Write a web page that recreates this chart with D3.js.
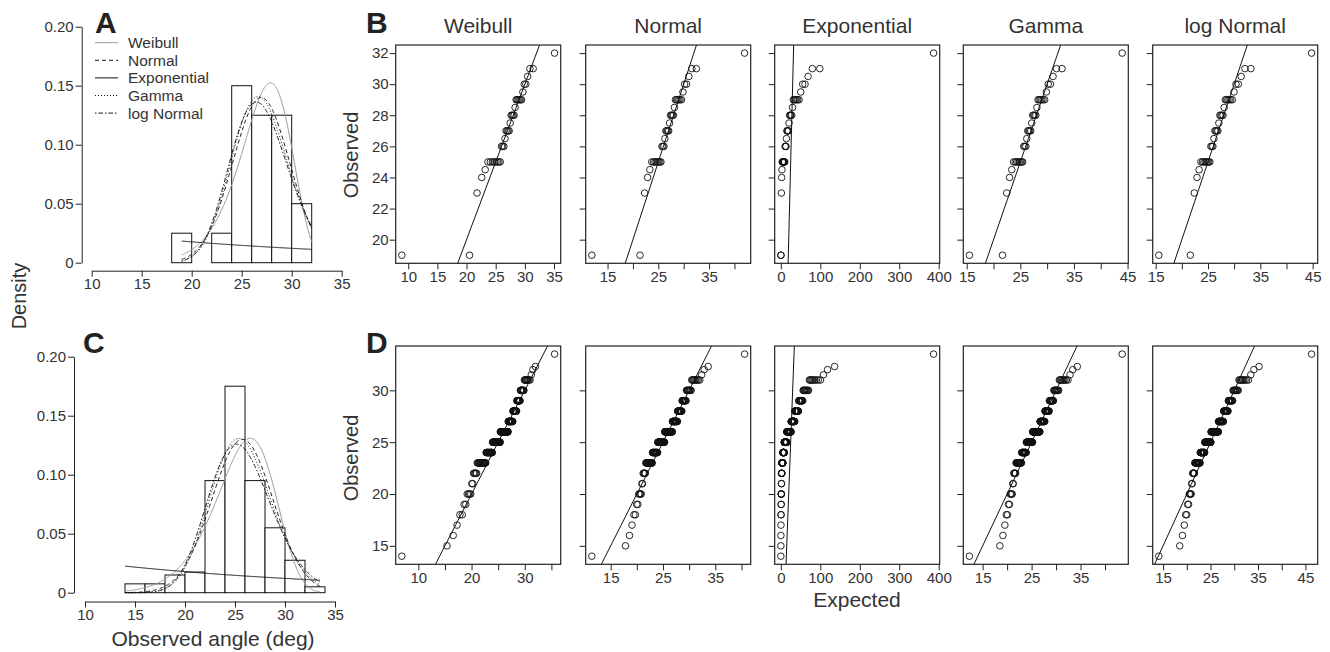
<!DOCTYPE html>
<html>
<head>
<meta charset="utf-8">
<script src="https://cdn.jsdelivr.net/npm/d3@7"></script>
<style>
  body { margin: 0; background: #fff; }
  text { font-family: "Liberation Sans", Arial, sans-serif; fill: #333; }
</style>
</head>
<body>
<div id="chart"></div>
<script>
// ---------------- data ----------------
const distNames = ["Weibull", "Normal", "Exponential", "Gamma", "log Normal"];

// observed angles (deg), sample 1 (panels A, B) as value / count
const obsValuesB = [19, 23, 24, 24.5, 25, 26, 26.5, 27, 27.5, 28, 28.5, 29, 29.5, 30, 30.5, 31, 32];
const obsCountsB = [2, 1, 1, 1, 8, 3, 1, 4, 1, 4, 1, 6, 1, 2, 1, 2, 1];
// sample 2 (panels C, D)
const obsValuesD = [14, 15, 16, 17, 18, 19, 20, 21, 22, 23, 24, 25, 26, 27, 28, 29, 30, 31, 31.5, 32, 32.3, 33.5];
const obsCountsD = [1, 1, 1, 1, 2, 2, 4, 2, 5, 18, 20, 32, 38, 22, 16, 12, 10, 9, 1, 1, 1, 1];

// fitted parameters, [sample 1, sample 2]
const weibullFit = [{shape: 11.6, scale: 28.1}, {shape: 9.5, scale: 26.85}];
const normalFit = [{mean: 26.95, sd: 2.85}, {mean: 25.74, sd: 3.07}];
const expFit = [{rate: 1 / 26.95}, {rate: 1 / 25.74}];
const gammaFit = [{shape: 89.4, rate: 3.318}, {shape: 70.3, rate: 2.731}];
const lnormFit = [{meanlog: 3.288, sdlog: 0.11}, {meanlog: 3.240, sdlog: 0.125}];

// expected value of the lowest / highest point in each QQ plot
const tailsB = [[8.9, 35.1], [11.9, 42.0], [0, 387], [15.5, 44.0], [15.6, 44.8]];
const tailsD = [[6.9, 35.6], [11.4, 40.6], [0, 387], [12.3, 43.5], [14.1, 46.3]];

const histBreaksA = [18, 20, 22, 24, 26, 28, 30, 32];
const histBreaksC = [14, 16, 18, 20, 22, 24, 26, 28, 30, 32, 34];
const densTicks = [0, 0.05, 0.10, 0.15, 0.20];
const angleTicks = [10, 15, 20, 25, 30, 35];

const yTicksB = [20, 22, 24, 26, 28, 30, 32];
const yTicksD = [15, 20, 25, 30];
const xTicksB = [[10, 15, 20, 25, 30, 35], [15, 20, 25, 30, 35, 40], [0, 100, 200, 300, 400], [15, 20, 25, 30, 35, 40, 45], [15, 20, 25, 30, 35, 40, 45]];
const xLabelsB = [[10, 15, 20, 25, 30, 35], [15, 25, 35], [0, 100, 200, 300, 400], [15, 25, 35, 45], [15, 25, 35, 45]];
const xTicksD = [[10, 15, 20, 25, 30, 35], [15, 20, 25, 30, 35, 40], [0, 100, 200, 300, 400], [15, 20, 25, 30, 35, 40], [15, 20, 25, 30, 35, 40, 45]];
const xLabelsD = [[10, 20, 30], [15, 25, 35], [0, 100, 200, 300, 400], [15, 25, 35], [15, 25, 35, 45]];

// ---------------- helpers ----------------
function expand(values, counts) {
  return values.flatMap((v, i) => Array(counts[i]).fill(v));
}

function qnorm(p) {
  const a = [-3.969683028665376e+01, 2.209460984245205e+02, -2.759285104469687e+02, 1.383577518672690e+02, -3.066479806614716e+01, 2.506628277459239e+00];
  const b = [-5.447609879822406e+01, 1.615858368580409e+02, -1.556989798598866e+02, 6.680131188771972e+01, -1.328068155288572e+01];
  const c = [-7.784894002430293e-03, -3.223964580411365e-01, -2.400758277161838e+00, -2.549732539343734e+00, 4.374664141464968e+00, 2.938163982698783e+00];
  const d = [7.784695709041462e-03, 3.224671290700398e-01, 2.445134137142996e+00, 3.754408661907416e+00];
  const pl = 0.02425;
  let q, r;
  if (p < pl) {
    q = Math.sqrt(-2 * Math.log(p));
    return (((((c[0]*q+c[1])*q+c[2])*q+c[3])*q+c[4])*q+c[5]) / ((((d[0]*q+d[1])*q+d[2])*q+d[3])*q+1);
  }
  if (p > 1 - pl) {
    q = Math.sqrt(-2 * Math.log(1 - p));
    return -(((((c[0]*q+c[1])*q+c[2])*q+c[3])*q+c[4])*q+c[5]) / ((((d[0]*q+d[1])*q+d[2])*q+d[3])*q+1);
  }
  q = p - 0.5; r = q * q;
  return (((((a[0]*r+a[1])*r+a[2])*r+a[3])*r+a[4])*r+a[5])*q / (((((b[0]*r+b[1])*r+b[2])*r+b[3])*r+b[4])*r+1);
}

function lgamma(a) {
  return (a - 0.5) * Math.log(a) - a + 0.5 * Math.log(2 * Math.PI) + 1 / (12 * a) - 1 / (360 * a * a * a);
}

// quantile + density functions for one sample
function dists(s) {
  const w = weibullFit[s], nf = normalFit[s], e = expFit[s], g = gammaFit[s], ln = lnormFit[s];
  return [
    {q: p => w.scale * Math.pow(-Math.log(1 - p), 1 / w.shape),
     d: x => (w.shape / w.scale) * Math.pow(x / w.scale, w.shape - 1) * Math.exp(-Math.pow(x / w.scale, w.shape))},
    {q: p => nf.mean + nf.sd * qnorm(p),
     d: x => Math.exp(-0.5 * ((x - nf.mean) / nf.sd) ** 2) / (nf.sd * Math.sqrt(2 * Math.PI))},
    {q: p => -Math.log(1 - p) / e.rate,
     d: x => e.rate * Math.exp(-e.rate * x)},
    {q: p => { const k = 1 / (9 * g.shape); return g.shape / g.rate * Math.pow(1 - k + qnorm(p) * Math.sqrt(k), 3); },
     d: x => Math.exp(g.shape * Math.log(g.rate) + (g.shape - 1) * Math.log(x) - g.rate * x - lgamma(g.shape))},
    {q: p => Math.exp(ln.meanlog + ln.sdlog * qnorm(p)),
     d: x => Math.exp(-0.5 * ((Math.log(x) - ln.meanlog) / ln.sdlog) ** 2) / (x * ln.sdlog * Math.sqrt(2 * Math.PI))}
  ];
}

const curveStyle = [
  {stroke: "#9a9a9a", dash: null},
  {stroke: "#111", dash: "4,3"},
  {stroke: "#111", dash: null},
  {stroke: "#111", dash: "1,2"},
  {stroke: "#111", dash: "1.5,2,4.5,2"}
];

const svg = d3.select("#chart").append("svg")
  .attr("width", 1330)
  .attr("height", 652);

function styleAxis(g, size) {
  g.attr("font-family", null).attr("font-size", size || 15).attr("color", "#222");
  g.selectAll("line, path").attr("stroke-width", 1);
}

// ---------------- density panels (A, C) ----------------
function drawDensity(cfg) {
  const obs = expand(cfg.values, cfg.counts);
  const n = obs.length;
  const fits = dists(cfg.sample);
  const x = d3.scaleLinear().domain([10, 35]).range(cfg.xRange);
  const y = d3.scaleLinear().domain([0, 0.2]).range(cfg.yRange);

  const bins = d3.pairs(cfg.breaks).map(([x0, x1], i) => {
    const c = obs.filter(v => (i === 0 ? v >= x0 : v > x0) && v <= x1).length;
    return {x0, x1, dens: c / (n * (x1 - x0))};
  });

  const g = svg.append("g");
  g.append("g").selectAll("rect")
    .data(bins)
    .join("rect")
      .attr("x", d => x(d.x0))
      .attr("y", d => y(d.dens))
      .attr("width", d => x(d.x1) - x(d.x0))
      .attr("height", d => y(0) - y(d.dens))
      .attr("fill", "#fff")
      .attr("stroke", "#111")
      .attr("stroke-width", 1);

  const lo = d3.min(obs), hi = d3.max(obs);
  const xs = d3.range(lo, hi + 1e-9, 0.05);
  const line = d3.line().x(d => x(d[0])).y(d => y(d[1]));
  fits.forEach((f, i) => {
    g.append("path")
      .attr("d", line(xs.map(v => [v, f.d(v)])))
      .attr("fill", "none")
      .attr("stroke", curveStyle[i].stroke)
      .attr("stroke-dasharray", curveStyle[i].dash)
      .attr("stroke-width", 1);
  });

  const ya = g.append("g")
    .attr("transform", `translate(${cfg.yAxisX},0)`)
    .call(d3.axisLeft(y).tickValues(densTicks).tickSize(6).tickSizeOuter(0).tickPadding(2)
      .tickFormat(d => d === 0 ? "0" : d3.format(".2f")(d)));
  styleAxis(ya);

  const xa = g.append("g")
    .attr("transform", `translate(0,${cfg.xAxisY})`)
    .call(d3.axisBottom(x).tickValues(angleTicks).tickSize(6).tickSizeOuter(0).tickPadding(2));
  styleAxis(xa);

  if (cfg.legend) {
    distNames.forEach((name, i) => {
      const yy = cfg.legend.y + i * 17.6;
      g.append("line")
        .attr("x1", cfg.legend.x).attr("x2", cfg.legend.x + 23)
        .attr("y1", yy).attr("y2", yy)
        .attr("stroke", curveStyle[i].stroke)
        .attr("stroke-dasharray", curveStyle[i].dash)
        .attr("stroke-width", 1);
      g.append("text")
        .attr("x", cfg.legend.x + 33).attr("y", yy + 5.5)
        .attr("font-size", 15.5)
        .text(name);
    });
  }
}

drawDensity({values: obsValuesB, counts: obsCountsB, sample: 0, breaks: histBreaksA,
  xRange: [91.7, 341.7], yRange: [262.7, 26.7], yAxisX: 81.7, xAxisY: 270.7,
  legend: {x: 95, y: 42.7}});
drawDensity({values: obsValuesD, counts: obsCountsD, sample: 1, breaks: histBreaksC,
  xRange: [85, 335], yRange: [592.7, 356.7], yAxisX: 74, xAxisY: 601.5});

// ---------------- QQ panels (B, D) ----------------
const boxLefts = [395.7, 585.7, 774.7, 963.3, 1152.7];
const boxW = 165;

function drawQQ(cfg) {
  const obs = expand(cfg.values, cfg.counts).sort(d3.ascending);
  const n = obs.length;
  const fits = dists(cfg.sample);
  const ext = d3.extent(obs);
  const yPad = (ext[1] - ext[0]) * 0.04;
  const y = d3.scaleLinear().domain([ext[0] - yPad, ext[1] + yPad]).range([cfg.bottom, cfg.top]);

  fits.forEach((f, k) => {
    const tails = cfg.tails[k];
    const pts = obs.map((o, i) => {
      let e;
      if (i === 0) e = tails[0];
      else if (i === n - 1) e = tails[1];
      else e = f.q(i / (n - 1));
      return [e, o];
    });
    const xe = d3.extent(pts, d => d[0]);
    const xPad = (xe[1] - xe[0]) * 0.04;
    const x = d3.scaleLinear().domain([xe[0] - xPad, xe[1] + xPad])
      .range([boxLefts[k], boxLefts[k] + boxW]);

    const g = svg.append("g");
    const clipId = `clip-${cfg.id}-${k}`;
    g.append("clipPath").attr("id", clipId)
      .append("rect")
        .attr("x", boxLefts[k]).attr("y", cfg.top)
        .attr("width", boxW).attr("height", cfg.bottom - cfg.top);

    // identity line
    const lineLo = Math.min(x.domain()[0], y.domain()[0]);
    const lineHi = Math.max(x.domain()[1], y.domain()[1]);
    g.append("line")
      .attr("clip-path", `url(#${clipId})`)
      .attr("x1", x(lineLo)).attr("y1", y(lineLo))
      .attr("x2", x(lineHi)).attr("y2", y(lineHi))
      .attr("stroke", "#111")
      .attr("stroke-width", 1);

    g.append("g").selectAll("circle")
      .data(pts)
      .join("circle")
        .attr("cx", d => x(d[0]))
        .attr("cy", d => y(d[1]))
        .attr("r", 3.3)
        .attr("fill", "none")
        .attr("stroke", "#111")
        .attr("stroke-width", 0.9);

    g.append("rect")
      .attr("x", boxLefts[k]).attr("y", cfg.top)
      .attr("width", boxW).attr("height", cfg.bottom - cfg.top)
      .attr("fill", "none")
      .attr("stroke", "#222")
      .attr("stroke-width", 1.2);

    const labels = cfg.xLabels[k];
    const xa = g.append("g")
      .attr("transform", `translate(0,${cfg.bottom})`)
      .call(d3.axisBottom(x).tickValues(cfg.xTicks[k]).tickSize(6).tickSizeOuter(0).tickPadding(2)
        .tickFormat(d => labels.includes(d) ? d : ""));
    xa.select(".domain").remove();
    styleAxis(xa);

    const ya = g.append("g")
      .attr("transform", `translate(${boxLefts[k]},0)`)
      .call(d3.axisLeft(y).tickValues(cfg.yTicks).tickSize(6).tickSizeOuter(0).tickPadding(1)
        .tickFormat(d => k === 0 ? d : ""));
    ya.select(".domain").remove();
    styleAxis(ya);

    if (cfg.titles) {
      g.append("text")
        .attr("x", boxLefts[k] + boxW / 2).attr("y", 33)
        .attr("text-anchor", "middle")
        .attr("font-size", 21)
        .text(distNames[k]);
    }
  });
}

drawQQ({id: "B", values: obsValuesB, counts: obsCountsB, sample: 0, tails: tailsB,
  top: 45, bottom: 263.3, yTicks: yTicksB, xTicks: xTicksB, xLabels: xLabelsB, titles: true});
drawQQ({id: "D", values: obsValuesD, counts: obsCountsD, sample: 1, tails: tailsD,
  top: 346, bottom: 564.3, yTicks: yTicksD, xTicks: xTicksD, xLabels: xLabelsD, titles: false});

// ---------------- labels ----------------
const letters = [["A", 95, 33], ["B", 366, 33], ["C", 83, 353], ["D", 366, 353]];
svg.selectAll(".letter")
  .data(letters)
  .join("text")
    .attr("class", "letter")
    .attr("x", d => d[0] === "A" ? d[1] : d[1])
    .attr("y", d => d[2])
    .attr("font-size", 30)
    .attr("font-weight", "bold")
    .style("fill", "#222")
    .text(d => d[0]);

svg.append("text")
  .attr("transform", "translate(26,296) rotate(-90)")
  .attr("text-anchor", "middle")
  .attr("font-size", 20)
  .text("Density");

svg.append("text")
  .attr("transform", "translate(358,155) rotate(-90)")
  .attr("text-anchor", "middle")
  .attr("font-size", 20)
  .text("Observed");

svg.append("text")
  .attr("transform", "translate(358,458) rotate(-90)")
  .attr("text-anchor", "middle")
  .attr("font-size", 20)
  .text("Observed");

svg.append("text")
  .attr("x", 857).attr("y", 607)
  .attr("text-anchor", "middle")
  .attr("font-size", 21)
  .text("Expected");

svg.append("text")
  .attr("x", 213).attr("y", 646)
  .attr("text-anchor", "middle")
  .attr("font-size", 21)
  .text("Observed angle (deg)");
</script>
</body>
</html>
